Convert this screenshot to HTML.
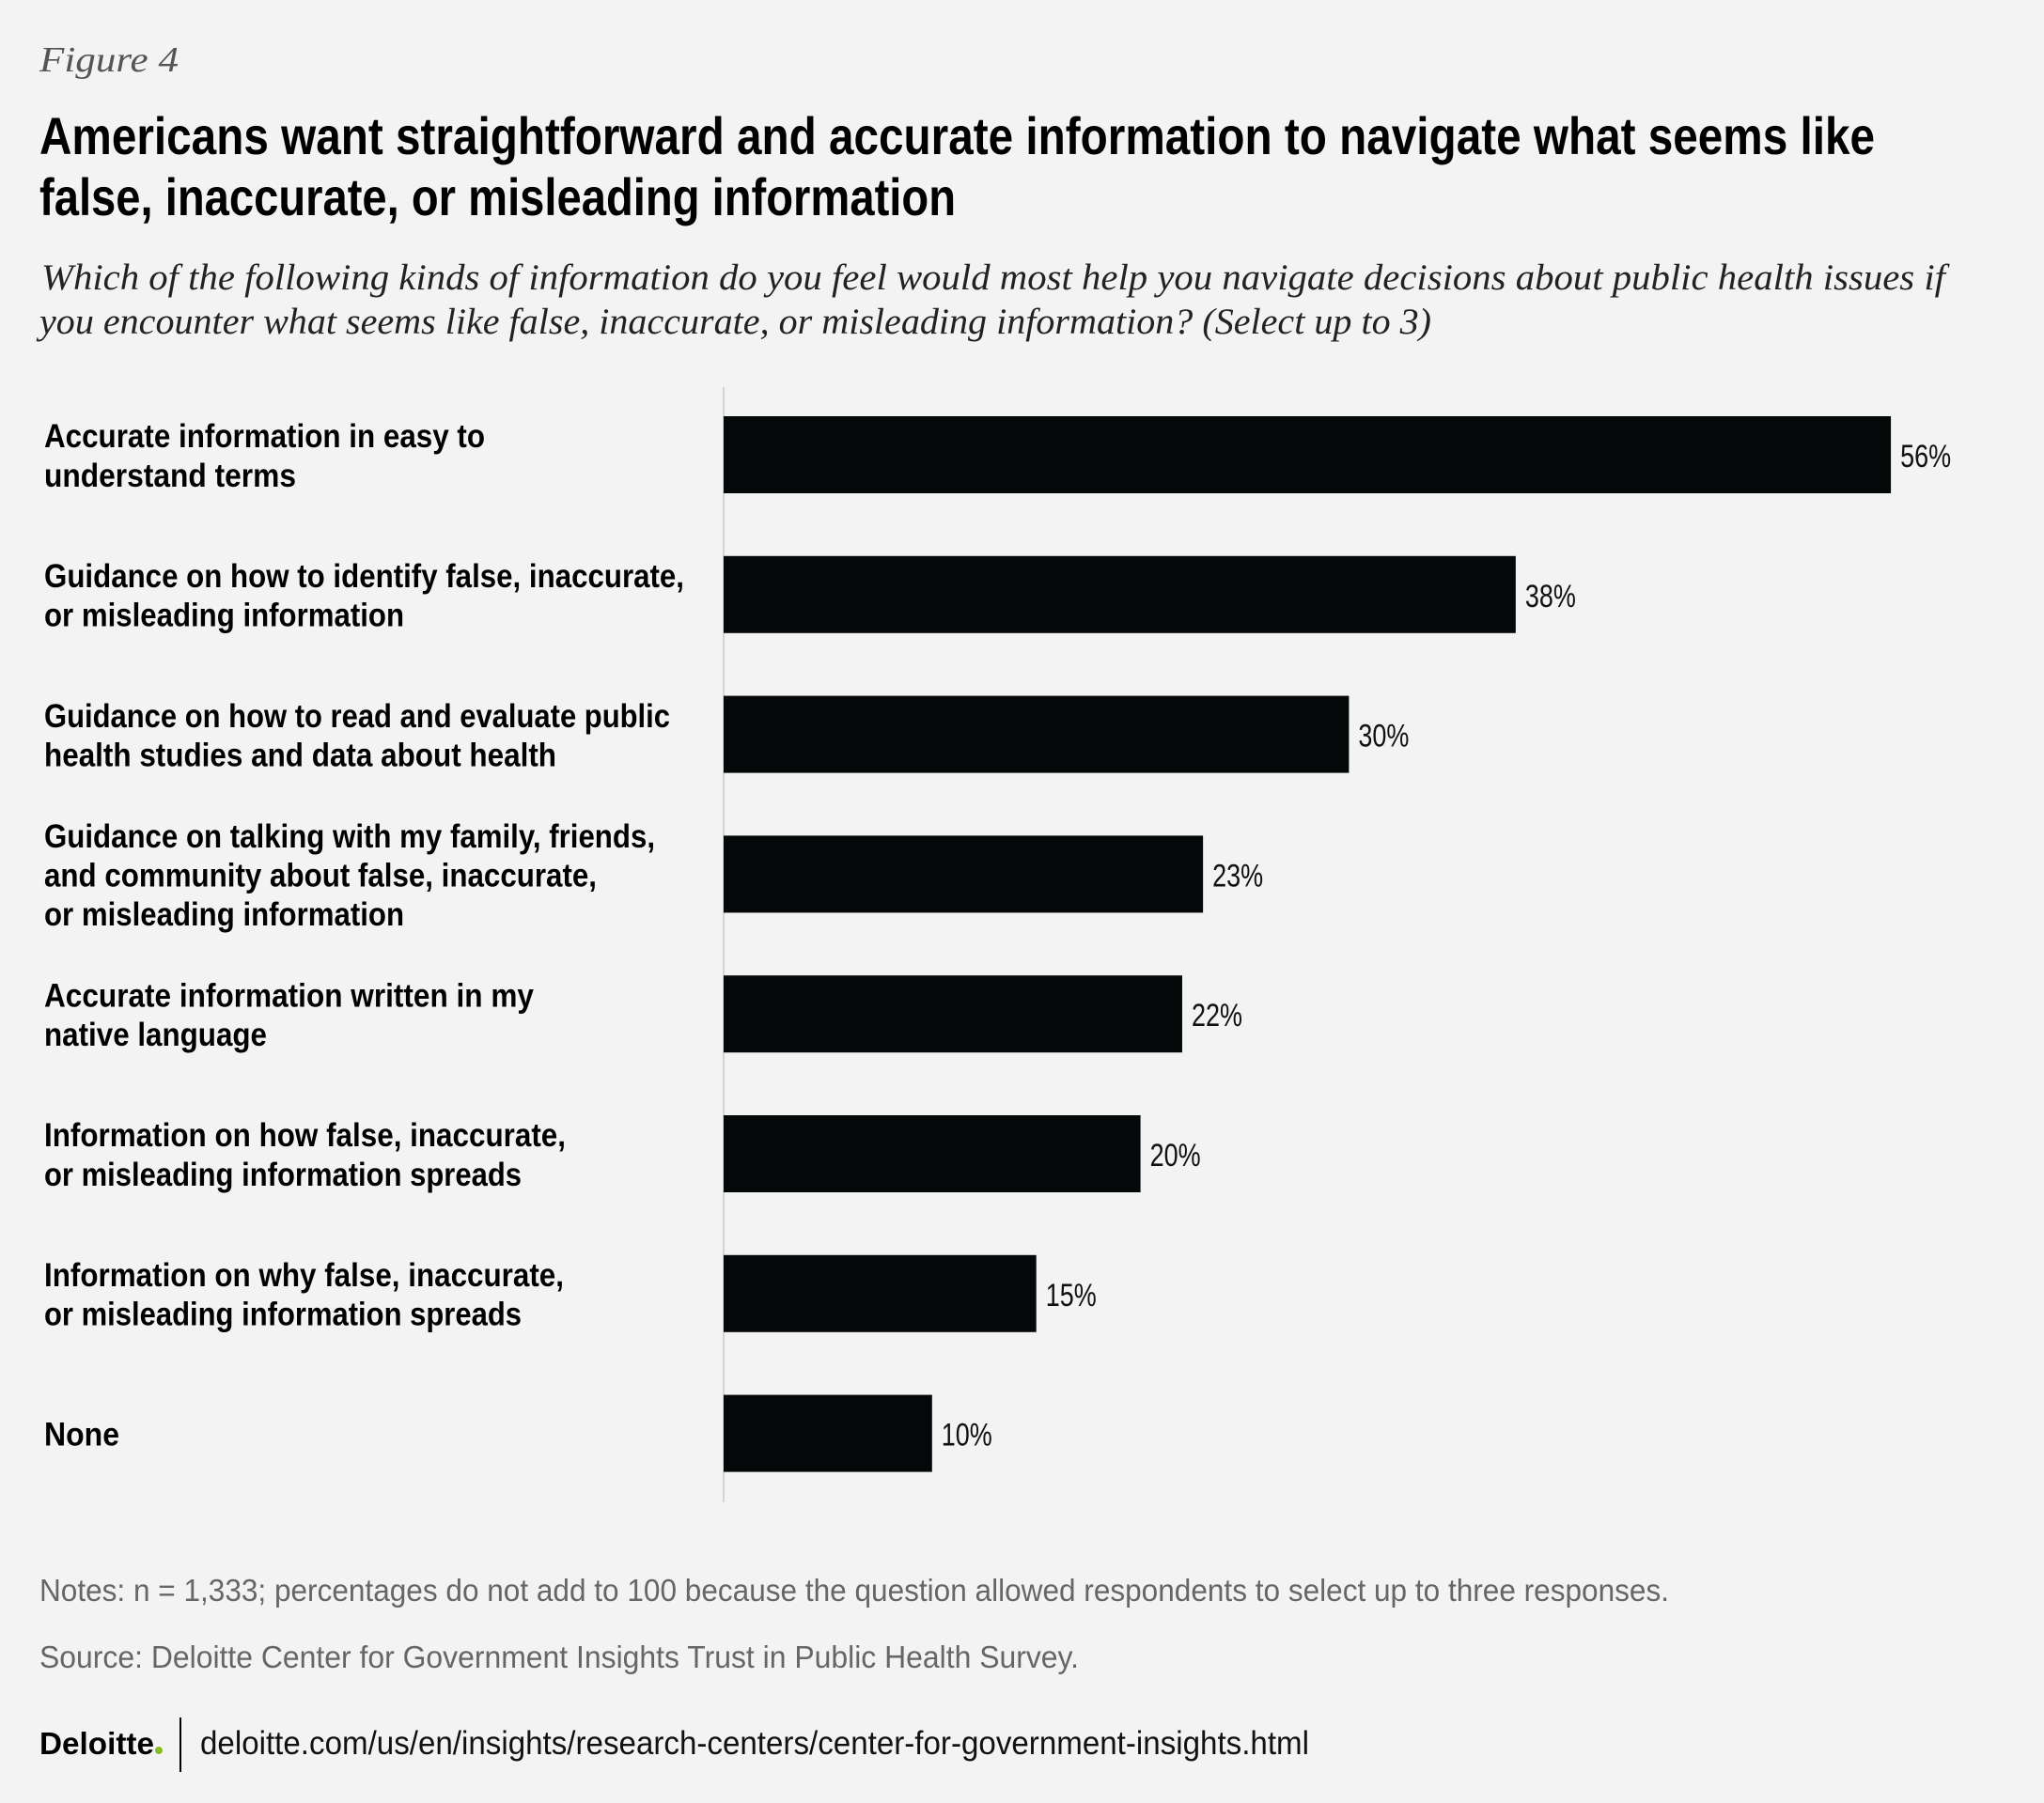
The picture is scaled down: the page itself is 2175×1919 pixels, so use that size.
<!DOCTYPE html>
<html><head><meta charset="utf-8"><style>
html,body{margin:0;padding:0;background:#f3f3f3;}
svg{display:block;}
.cond{font-family:"Liberation Sans Narrow","Liberation Sans",sans-serif;}
.serif{font-family:"Liberation Serif",serif;font-style:italic;}
</style></head><body>
<svg id="chart" width="2175" height="1919" viewBox="0 0 2175 1919" xmlns="http://www.w3.org/2000/svg">
<rect x="0" y="0" width="2175" height="1919" fill="#f3f3f3"/>
<text class="serif" x="42" y="76" font-size="38" fill="#555" textLength="148" lengthAdjust="spacingAndGlyphs">Figure 4</text>
<g>
<text class="cond" x="42" y="164" font-size="56" font-weight="bold" fill="#000" textLength="1953" lengthAdjust="spacingAndGlyphs">Americans want straightforward and accurate information to navigate what seems like</text>
<text class="cond" x="42" y="229" font-size="56" font-weight="bold" fill="#000" textLength="975" lengthAdjust="spacingAndGlyphs">false, inaccurate, or misleading information</text>
</g>
<g>
<text class="serif" x="44" y="308" font-size="39" fill="#222" textLength="2026" lengthAdjust="spacingAndGlyphs">Which of the following kinds of information do you feel would most help you navigate decisions about public health issues if</text>
<text class="serif" x="42" y="355" font-size="39" fill="#222" textLength="1481" lengthAdjust="spacingAndGlyphs">you encounter what seems like false, inaccurate, or misleading information? (Select up to 3)</text>
</g>
<line x1="770" y1="412" x2="770" y2="1599" stroke="#d4d4d4" stroke-width="2"/>
<g id="bars"></g>
<g id="labels"></g>
<text class="cond" x="42" y="1704" font-size="33" fill="#666" textLength="1734" lengthAdjust="spacingAndGlyphs">Notes: n = 1,333; percentages do not add to 100 because the question allowed respondents to select up to three responses.</text>
<text class="cond" x="42" y="1775" font-size="33" fill="#666" textLength="1106" lengthAdjust="spacingAndGlyphs">Source: Deloitte Center for Government Insights Trust in Public Health Survey.</text>
<text class="cond" x="42" y="1867" font-size="33" font-weight="bold" fill="#000" textLength="122" lengthAdjust="spacingAndGlyphs">Deloitte</text>
<circle cx="169" cy="1863" r="4" fill="#86bc25"/>
<line x1="192" y1="1828" x2="192" y2="1886" stroke="#000" stroke-width="2"/>
<text class="cond" x="213" y="1867" font-size="35" fill="#111" textLength="1180" lengthAdjust="spacingAndGlyphs">deloitte.com/us/en/insights/research-centers/center-for-government-insights.html</text>
</svg>
<script>
const categories = [
  ["Accurate information in easy to","understand terms"],
  ["Guidance on how to identify false, inaccurate,","or misleading information"],
  ["Guidance on how to read and evaluate public","health studies and data about health"],
  ["Guidance on talking with my family, friends,","and community about false, inaccurate,","or misleading information"],
  ["Accurate information written in my","native language"],
  ["Information on how false, inaccurate,","or misleading information spreads"],
  ["Information on why false, inaccurate,","or misleading information spreads"],
  ["None"]
];
const values = [56, 38, 30, 23, 22, 20, 15, 10];
const valueLabels = ["56%","38%","30%","23%","22%","20%","15%","10%"];
const labelWidths = [[469,268],[681,383],[666,545],[650,588,383],[521,237],[555,508],[553,508],[80]];

const NS = "http://www.w3.org/2000/svg";
const x0 = 770, pxPer = 22.18;
const xScale = v => x0 + v * pxPer;
const bandTop = i => 443 + i * 148.8;
const barH = 82;
const barsG = document.getElementById('bars');
const labelsG = document.getElementById('labels');
values.forEach((v, i) => {
  const r = document.createElementNS(NS, 'rect');
  r.setAttribute('x', x0);
  r.setAttribute('y', bandTop(i));
  r.setAttribute('width', xScale(v) - x0);
  r.setAttribute('height', barH);
  r.setAttribute('fill', '#050809');
  
  
  barsG.appendChild(r);
  const t = document.createElementNS(NS, 'text');
  t.setAttribute('x', xScale(v) + 10);
  t.setAttribute('y', bandTop(i) + barH / 2 + 13);
  t.setAttribute('font-size', '34');
  t.setAttribute('class', 'cond');
  t.setAttribute('fill', '#111');
  t.setAttribute('textLength', '54');
  t.setAttribute('lengthAdjust', 'spacingAndGlyphs');
  t.textContent = valueLabels[i];
  
  
  barsG.appendChild(t);
  const lines = categories[i];
  const cy = bandTop(i) + barH / 2;
  const lh = 41.6;
  lines.forEach((ln, j) => {
    const lt = document.createElementNS(NS, 'text');
    lt.setAttribute('x', 47);
    lt.setAttribute('y', cy + (j - (lines.length - 1) / 2) * lh + 13);
    lt.setAttribute('font-size', '35');
    lt.setAttribute('font-weight', 'bold');
    lt.setAttribute('class', 'cond');
    lt.setAttribute('fill', '#000');
    lt.setAttribute('textLength', labelWidths[i][j]);
    lt.setAttribute('lengthAdjust', 'spacingAndGlyphs');
    lt.textContent = ln;
    
    
    labelsG.appendChild(lt);
  });
});
</script>
</body></html>
